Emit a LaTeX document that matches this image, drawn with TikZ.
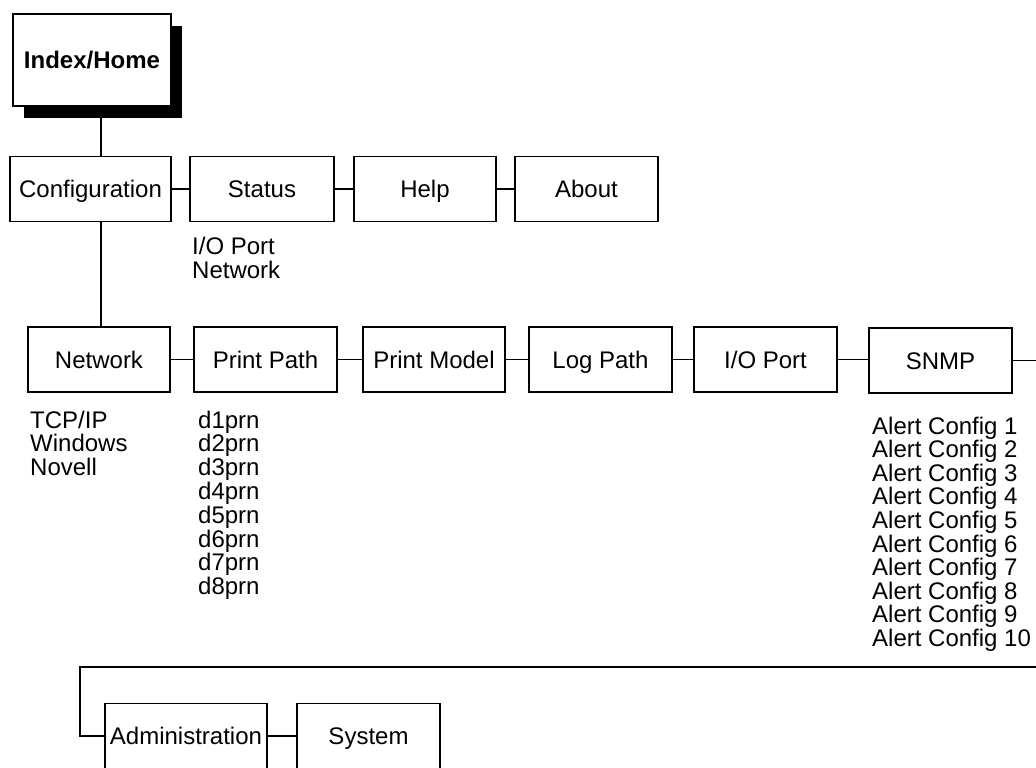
\documentclass[tikz,border=0pt]{standalone}
\usepackage{fontspec}
\setmainfont{Liberation Sans}
\usepackage{tikz}
\usetikzlibrary{shadows}

\begin{document}
\begin{tikzpicture}[x=1bp, y=-1bp,
    menubox/.style={draw, line width=1.8bp, fill=white, inner sep=0pt,
        minimum height=65bp, text height=17bp, text depth=0pt,
        font=\fontsize{24bp}{24bp}\selectfont},
    itemtext/.style={anchor=base west, inner sep=0pt, font=\fontsize{24bp}{24bp}\selectfont},
    link/.style={line width=1.8bp}]
    \useasboundingbox (0,0) rectangle (1036,768);
    % Home page
    \node[menubox, minimum width=158bp, minimum height=92bp,
          font=\fontsize{24bp}{24bp}\selectfont\bfseries,
          drop shadow={shadow xshift=11bp, shadow yshift=-12bp, fill=black, opacity=1}] (home) at (92,60) {Index/Home};
    % First level
    \node[menubox, minimum width=161bp] (config) at (90.5,189) {Configuration};
    \node[menubox, minimum width=144bp] (status) at (262,189) {Status};
    \node[menubox, minimum width=142bp] (help) at (425,189) {Help};
    \node[menubox, minimum width=143bp] (about) at (586.5,189) {About};
    \coordinate (trunk) at (101,0);
    \draw[link] (home.south -| trunk) -- (config.north -| trunk);
    \draw[link] (config) -- (status);
    \draw[link] (status) -- (help);
    \draw[link] (help) -- (about);
    \node[itemtext] (statport) at (192,254) {I/O Port};
    \node[itemtext] (statnet) at (192,278) {Network};
    % Configuration pages
    \node[menubox, minimum width=142bp] (network) at (99,359.5) {Network};
    \node[menubox, minimum width=143bp] (prnpath) at (265.5,359.5) {Print Path};
    \node[menubox, minimum width=142bp] (prnmodel) at (434,359.5) {Print Model};
    \node[menubox, minimum width=143bp] (logpath) at (600.5,359.5) {Log Path};
    \node[menubox, minimum width=143bp] (ioport) at (765.5,359.5) {I/O Port};
    \node[menubox, minimum width=143bp] (snmp) at (940.5,360.5) {SNMP};
    \draw[link] (config.south -| trunk) -- (network.north -| trunk);
    \draw[link] (network) -- (prnpath);
    \draw[link] (prnpath) -- (prnmodel);
    \draw[link] (prnmodel) -- (logpath);
    \draw[link] (logpath) -- (ioport);
    \draw[link] (ioport.east) -- (ioport.east -| snmp.west);
    % Sub items
    \foreach \t [count=\i from 0] in {TCP/IP,Windows,Novell}
        \node[itemtext] (net\i) at (30,{428+23.7*\i}) {\t};
    \foreach \i in {1,...,8}
        \node[itemtext] (prn\i) at (198,{428+23.8*(\i-1)}) {d\i prn};
    \foreach \i in {1,...,10}
        \node[itemtext] (alert\i) at (872,{434+23.6*(\i-1)}) {Alert Config \i};
    % Continued row
    \coordinate (wrapR) at (1036,667);
    \coordinate (wrapL) at (80,667);
    \node[menubox, minimum width=162bp] (admin) at (186,736) {Administration};
    \node[menubox, minimum width=143bp] (system) at (368.5,736) {System};
    \draw[link] (snmp.east) -- (snmp.east -| wrapR);
    \draw[link] (wrapR) -- (wrapL) |- (admin.west);
    \draw[link] (admin) -- (system);
\end{tikzpicture}
\end{document}
